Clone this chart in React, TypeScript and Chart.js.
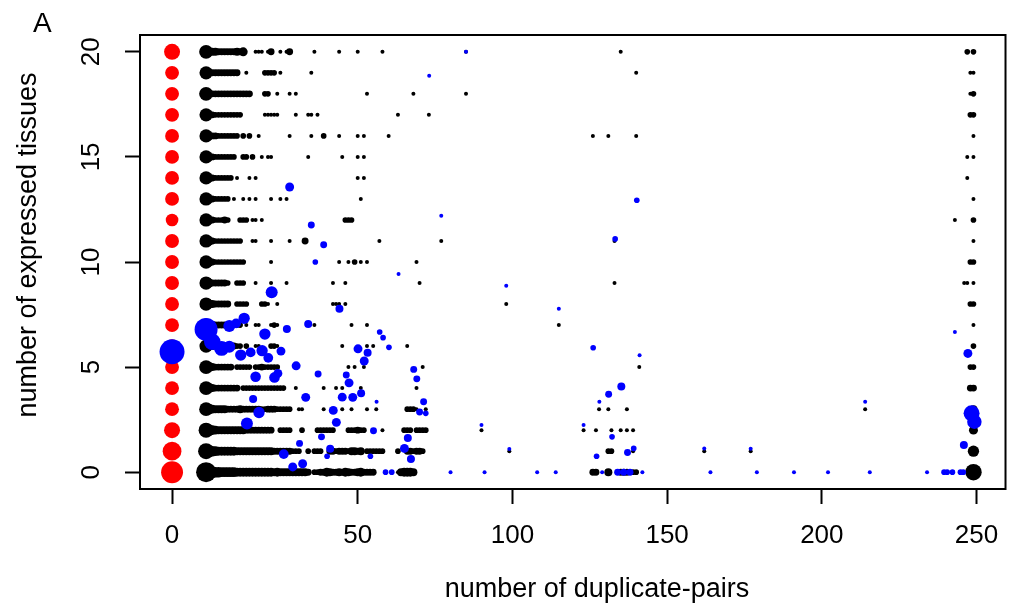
import React, { useEffect, useRef } from 'react';
import { Chart, registerables } from 'chart.js';
Chart.register(...registerables);

// x position used for genes with no duplicate pair (labelled "0")
const SINGLETON_X = -10;
const xTickValues = [-10, 50, 100, 150, 200, 250];
const xTickLabels = ['0', '50', '100', '150', '200', '250'];
const yTickValues = [0, 5, 10, 15, 20];
const tissueLevels = [0, 1, 2, 3, 4, 5, 6, 7, 8, 9, 10, 11, 12, 13, 14, 15, 16, 17, 18, 19, 20];
const xTitle = 'number of duplicate-pairs';
const yTitle = 'number of expressed tissues';
const panelLabel = 'A';

// singleton gene counts per number of expressed tissues (red)
const redCounts = [30, 22, 16, 12, 12, 12, 12, 12, 12, 12, 12, 12, 10, 12, 12, 12, 12, 12, 12, 12, 16];

// black: [duplicate-pairs, count] per number of expressed tissues
const black0 = [[1,25],[2,12],[3,9],[4,7],[5,7],[6,6],[7,6],[8,6],[9,6],[10,6],[11,5],[12,5],[13,5],[14,5],[15,5],[16,5],[17,5],[18,5],[19,5],[20,5],[21,5],[22,5],[23,4],[24,5],[25,4],[26,4],[27,4],[28,4],[29,4],[30,4],[31,4],[32,4],[33,4],[34,3],[36,2],[37,2],[38,3],[39,3],[40,5],[41,4],[42,3],[43,3],[44,4],[45,3],[46,5],[47,4],[48,3],[49,3],[50,4],[51,5],[52,3],[53,3],[54,3],[55,3],[63,1],[64,4],[65,5],[66,5],[67,5],[68,4],[126,3],[127,3],[131,4],[135,3],[136,3],[137,3],[139,2],[140,2],[249,17]];
const black1 = [[1,16],[2,9],[3,7],[4,6],[5,5],[6,5],[7,5],[8,5],[9,5],[10,5],[11,4],[12,4],[13,4],[14,4],[15,4],[16,4],[17,4],[18,4],[19,4],[20,4],[21,4],[22,4],[23,3],[24,3],[25,3],[26,3],[27,3],[28,3],[29,2],[30,2],[31,2],[34,2],[36,2],[37,2],[38,2],[41,3],[42,3],[43,2],[44,3],[45,3],[46,3],[47,2],[48,4],[49,4],[50,3],[51,4],[53,2],[54,2],[55,2],[56,2],[57,2],[58,2],[63,2],[66,3],[67,3],[68,2],[69,3],[70,3],[71,2],[99,1],[131,2],[132,2],[139,1],[162,1],[177,1],[249,8]];
const black2 = [[1,14],[2,8],[3,6],[4,5],[5,4],[6,4],[7,4],[8,4],[9,4],[10,4],[11,4],[12,4],[13,4],[14,3],[15,3],[16,3],[17,3],[18,3],[19,3],[20,3],[21,3],[22,3],[25,2],[26,2],[27,2],[28,2],[32,2],[37,2],[38,2],[39,2],[40,2],[41,2],[42,2],[47,2],[48,2],[49,2],[50,3],[51,2],[52,2],[58,1],[65,2],[66,2],[67,2],[69,2],[70,2],[71,2],[72,2],[90,1],[123,1],[127,1],[132,1],[135,1],[137,1],[139,1],[249,5]];
const black3 = [[1,12],[2,7],[3,5],[4,4],[5,4],[6,4],[7,4],[8,3],[9,3],[10,3],[11,3],[12,4],[13,3],[14,3],[15,3],[16,3],[17,3],[18,3],[19,2],[20,2],[21,3],[22,3],[23,3],[24,2],[25,2],[26,2],[27,2],[28,2],[31,1],[32,1],[39,1],[42,1],[45,1],[48,1],[53,1],[56,1],[66,2],[67,2],[68,2],[69,1],[72,1],[128,1],[131,1],[137,1],[214,1],[249,4]];
const black4 = [[1,12],[2,6],[3,4],[4,3],[5,3],[6,3],[7,3],[8,3],[9,3],[10,3],[11,3],[13,2],[14,2],[15,2],[16,2],[17,2],[18,2],[19,2],[20,2],[21,2],[22,2],[23,2],[24,2],[25,2],[26,2],[30,1],[39,1],[43,1],[45,1],[51,1],[69,1],[248,3],[249,3]];
const black5 = [[1,12],[2,6],[3,4],[4,3],[5,3],[6,3],[7,3],[8,3],[9,3],[11,2],[12,2],[13,2],[14,2],[15,2],[17,2],[18,2],[19,3],[20,2],[21,2],[22,2],[23,2],[24,2],[47,1],[49,1],[52,1],[71,1],[141,1],[248,2],[249,2]];
const black6 = [[1,11],[2,5],[3,4],[4,3],[5,3],[6,3],[7,3],[8,3],[9,3],[10,3],[11,2],[12,2],[14,2],[17,1],[18,1],[22,2],[23,2],[24,1],[45,1],[53,1],[55,1],[66,1],[249,2]];
const black7 = [[1,11],[2,5],[3,4],[4,3],[5,3],[6,3],[7,3],[8,3],[9,3],[10,2],[11,2],[12,2],[14,1],[17,1],[18,1],[22,1],[23,2],[24,1],[36,1],[48,1],[53,1],[115,1],[249,1]];
const black8 = [[1,11],[2,5],[3,4],[4,3],[5,3],[6,3],[7,3],[8,3],[11,2],[12,2],[13,2],[14,2],[19,2],[20,2],[21,1],[24,1],[42,1],[43,1],[44,1],[46,1],[98,1],[248,2],[249,2]];
const black9 = [[1,11],[2,5],[3,3],[4,3],[5,3],[6,3],[7,3],[8,2],[11,2],[12,2],[13,2],[17,1],[22,1],[27,1],[42,1],[46,1],[70,1],[133,1],[246,1],[247,1],[249,1]];
const black10 = [[1,11],[2,5],[3,3],[4,2],[5,2],[6,2],[7,2],[8,2],[9,2],[10,2],[11,2],[12,2],[13,2],[22,1],[44,1],[47,1],[49,2],[51,1],[53,1],[69,1],[248,2],[249,2]];
const black11 = [[1,11],[2,5],[3,3],[4,2],[5,2],[6,2],[7,2],[8,2],[9,2],[10,2],[11,2],[12,2],[16,1],[17,1],[22,1],[28,1],[33,3],[57,1],[77,1],[133,1],[249,1]];
const black12 = [[1,11],[2,4],[3,3],[4,2],[5,2],[6,2],[7,3],[8,2],[12,2],[13,2],[14,2],[16,1],[17,1],[19,1],[46,2],[47,2],[48,2],[243,1],[249,2]];
const black13 = [[1,11],[2,4],[3,3],[4,2],[5,2],[6,2],[7,2],[8,2],[10,1],[13,1],[15,1],[17,1],[22,1],[25,1],[27,1],[51,1],[249,1]];
const black14 = [[1,11],[2,4],[3,3],[4,2],[5,2],[6,2],[7,2],[8,2],[9,2],[11,1],[15,1],[17,1],[50,1],[52,1],[247,1]];
const black15 = [[1,11],[2,4],[3,3],[4,2],[5,2],[6,2],[7,2],[8,2],[9,2],[10,2],[13,2],[14,2],[16,2],[19,1],[21,1],[22,1],[34,1],[45,1],[50,1],[52,1],[247,1],[249,1]];
const black16 = [[1,11],[2,4],[3,3],[4,3],[5,2],[6,2],[7,2],[8,2],[9,2],[10,2],[11,2],[13,2],[15,2],[18,1],[28,1],[35,1],[39,2],[44,1],[50,1],[52,1],[60,1],[126,1],[131,1],[140,1],[249,1]];
const black17 = [[1,11],[2,4],[3,3],[4,2],[5,2],[6,2],[7,2],[8,2],[9,2],[10,2],[11,2],[12,2],[20,1],[21,1],[22,1],[23,1],[24,1],[30,1],[34,1],[35,1],[37,1],[63,1],[73,1],[248,2],[249,2]];
const black18 = [[1,12],[2,4],[3,3],[4,3],[5,3],[6,3],[7,3],[8,3],[9,3],[10,3],[11,3],[12,3],[13,3],[14,3],[15,3],[20,2],[21,2],[24,1],[28,1],[30,1],[53,1],[68,1],[85,1],[248,1],[249,2]];
const black19 = [[1,11],[2,4],[3,3],[4,3],[5,3],[6,3],[7,3],[8,3],[9,3],[10,3],[11,3],[14,1],[20,2],[21,2],[22,2],[23,2],[25,1],[35,1],[140,1],[248,1],[249,1]];
const black20 = [[1,12],[2,5],[3,4],[4,4],[5,3],[6,3],[7,3],[8,3],[9,3],[10,3],[11,4],[12,3],[13,5],[17,1],[18,1],[19,1],[21,1],[22,3],[25,1],[27,1],[28,3],[36,1],[44,1],[50,1],[58,1],[85,1],[135,1],[247,2],[249,2]];
const blackRows = [black0, black1, black2, black3, black4, black5, black6, black7, black8, black9, black10,
  black11, black12, black13, black14, black15, black16, black17, black18, black19, black20];

// blue: [duplicate-pairs, mean expressed tissues, weight]
const blueMeans = [
  [-10, 5.73, 39], [1, 6.79, 33], [3, 6.2, 17], [6, 5.89, 14], [8.5, 5.97, 9], [8.5, 6.95, 9],
  [10.7, 7.08, 6], [13.3, 7.32, 8], [12.2, 5.57, 8], [15.4, 5.7, 6], [19.1, 5.78, 8], [21.1, 5.44, 6],
  [25.2, 5.76, 5], [17, 4.54, 7], [23.1, 4.51, 7], [24.2, 4.7, 5], [16.2, 3.48, 4], [18.1, 2.84, 8],
  [14.2, 2.32, 9], [22.2, 8.56, 9], [20, 6.57, 8], [27.1, 6.81, 4], [34, 7.05, 4], [44.1, 7.78, 4],
  [57.1, 6.67, 2], [58.2, 6.4, 2], [60.1, 5.94, 2], [50.1, 5.87, 5], [53.2, 5.68, 4], [52.1, 5.29, 5],
  [30.1, 5.06, 5], [37.2, 4.67, 3], [46.3, 4.62, 3], [47.2, 4.25, 5], [33.2, 3.56, 5], [45, 3.57, 5],
  [48.4, 3.56, 5], [51.1, 3.75, 4], [56.1, 3.35, 1], [42.1, 2.94, 5], [43.1, 2.37, 5], [38.3, 1.68, 3],
  [55.1, 1.97, 3], [31.2, 1.37, 3], [26.1, 0.86, 6], [41.1, 1.11, 4], [40.1, 0.76, 2], [54.1, 0.76, 2],
  [29, 0.25, 5], [32.2, 0.4, 5], [59, 0, 2], [61, 0, 2], [28, 13.57, 5], [35, 11.76, 3], [39, 10.82, 3],
  [36.3, 10, 2], [63.2, 9.43, 1], [73.1, 18.86, 1], [85, 20, 1], [77, 12.2, 1], [98, 8.87, 1],
  [115, 7.78, 1], [68.1, 4.89, 3], [69.1, 4.44, 3], [71.3, 3.35, 3], [70, 2.86, 3], [72, 2.8, 2],
  [90, 2.24, 1], [66.2, 1.63, 4], [65.1, 1.13, 5], [67.2, 0.63, 4], [99, 1.1, 1],
  [80, 0, 1], [91, 0, 1], [108, 0, 1], [114, 0, 1],
  [140.2, 12.94, 2], [133.2, 11.1, 2], [126.1, 5.92, 2], [141.1, 5.56, 1], [135.2, 4.08, 4],
  [131.1, 3.71, 3], [128.1, 3.35, 1], [123, 2.24, 1], [132.2, 1.68, 2], [139.2, 1.13, 2],
  [137.2, 0.94, 3], [162, 1.13, 1], [127.2, 0.76, 2],
  [129, 0, 1], [134, 0, 3], [136, 0, 3], [138, 0, 3], [142, 0, 1], [164, 0, 1],
  [214, 3.35, 1], [177, 1.11, 1], [179, 0, 1], [191, 0, 1], [202, 0, 1], [215.5, 0, 1],
  [243, 6.67, 1], [247.2, 5.65, 5], [248.4, 2.8, 16], [249.3, 2.4, 13], [245.9, 1.29, 4],
  [234, 0, 1], [239.5, 0, 2], [240.5, 0, 2], [242.2, 0, 2], [244.8, 0, 2], [245.7, 0, 2],
];

const FONT = '"Liberation Sans", Arial, Helvetica, sans-serif';
const radiusOf = (n: number) => 2 * Math.sqrt(n);

const framePlugin = {
  id: 'frame',
  afterDraw(chart: any) {
    const { ctx, chartArea } = chart;
    ctx.save();
    ctx.strokeStyle = '#000';
    ctx.lineWidth = 2;
    ctx.strokeRect(chartArea.left, chartArea.top, chartArea.right - chartArea.left, chartArea.bottom - chartArea.top);
    ctx.fillStyle = '#000';
    ctx.font = `28px ${FONT}`;
    ctx.textAlign = 'left';
    ctx.textBaseline = 'alphabetic';
    ctx.fillText(panelLabel, 33, 32);
    // axis titles
    ctx.font = `27px ${FONT}`;
    ctx.textAlign = 'center';
    ctx.textBaseline = 'middle';
    ctx.fillText(xTitle, 597, 590);
    ctx.translate(29, 245);
    ctx.rotate(-Math.PI / 2);
    ctx.fillText(yTitle, 0, 0);
    ctx.restore();
  },
};

export default function App() {
  const ref = useRef<HTMLCanvasElement>(null);
  useEffect(() => {
    const blackData = blackRows.flatMap((row, i) => row.map(([x, n]) => ({ x, y: tissueLevels[i], n })));
    const redData = tissueLevels.map((y, i) => ({ x: SINGLETON_X, y, n: redCounts[i] }));
    const blueData = blueMeans.map(([x, y, n]) => ({ x, y, n }));
    const rad = (c: any) => radiusOf(c.raw ? c.raw.n : 1);
    const mk = (label: string, data: any[], color: string, order: number) => ({
      label, data, order,
      backgroundColor: color, borderColor: color,
      pointRadius: rad, pointHoverRadius: rad,
      pointBorderWidth: 0, borderWidth: 0, pointStyle: 'circle',
    });
    const chart = new Chart(ref.current!, {
      type: 'scatter',
      data: {
        datasets: [
          mk('gene families', blackData, '#000000', 3),
          mk('singletons', redData, '#FF0000', 2),
          mk('family mean', blueData, '#0000FF', 1),
        ] as any,
      },
      options: {
        responsive: false,
        animation: false,
        devicePixelRatio: 1,
        events: [],
        layout: { padding: { left: 0, top: 35, right: 1, bottom: 0 } },
        plugins: { legend: { display: false }, tooltip: { enabled: false } },
        scales: {
          x: {
            type: 'linear',
            min: -20.36,
            max: 259.36,
            afterBuildTicks: (s: any) => { s.ticks = xTickValues.map((v) => ({ value: v })); },
            afterFit: (s: any) => { s.height = 122; },
            ticks: {
              callback: (_v: any, i: number) => xTickLabels[i],
              font: { family: FONT, size: 26 },
              color: '#000',
              padding: 16,
              maxRotation: 0,
              minRotation: 0,
              autoSkip: false,
            },
            grid: { drawOnChartArea: false, drawTicks: true, tickLength: 15, tickColor: '#000', tickWidth: 2 },
            border: { display: false },
            title: { display: false, text: xTitle },
          },
          y: {
            type: 'linear',
            min: -0.8,
            max: 20.8,
            afterBuildTicks: (s: any) => { s.ticks = yTickValues.map((v) => ({ value: v })); },
            afterFit: (s: any) => { s.width = 140; },
            ticks: {
              callback: (_v: any, i: number) => String(yTickValues[i]),
              font: { family: FONT, size: 26 },
              color: '#000',
              padding: 19,
              minRotation: 90,
              maxRotation: 90,
              crossAlign: 'center',
              autoSkip: false,
            },
            grid: { drawOnChartArea: false, drawTicks: true, tickLength: 15, tickColor: '#000', tickWidth: 2 },
            border: { display: false },
            title: { display: false, text: yTitle },
          },
        },
      } as any,
      plugins: [framePlugin],
    });
    return () => chart.destroy();
  }, []);
  return (
    <div style={{ position: 'fixed', left: 0, top: 0, width: 1018, height: 611, background: '#fff' }}>
      <canvas ref={ref} width={1018} height={611} style={{ display: 'block' }} />
    </div>
  );
}
